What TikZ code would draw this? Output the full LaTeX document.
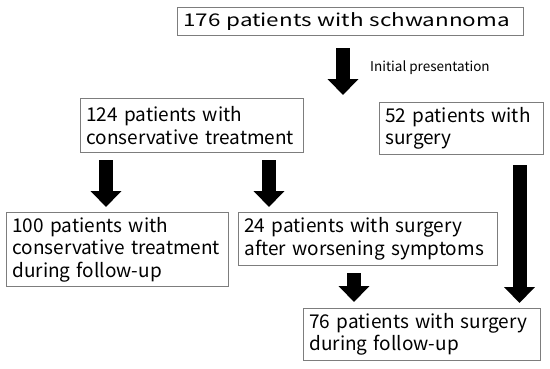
\documentclass[tikz,border=0pt]{standalone}
\usepackage{fontspec}
\setmainfont{Noto Sans CJK JP}
\newfontfamily\bxfont{Noto Sans CJK JP}
\newfontfamily\topfont[FakeStretch=1.28]{Noto Sans CJK JP}
\usetikzlibrary{arrows.meta}
\definecolor{boxline}{RGB}{125,125,125}
\begin{document}
\begin{tikzpicture}[x=1pt,y=-1pt,
  box/.style={draw=boxline, line width=0.8pt, anchor=north west, inner xsep=6pt, inner ysep=0pt,
    align=left, font=\bxfont\fontsize{19}{22.5}\selectfont},
  fat/.style={line width=14pt, draw=black, -{Triangle[width=30pt,length=16pt]}}]
\useasboundingbox (0,0) rectangle (550,368);
\node[box, text width=334pt, minimum height=28pt, font=\topfont\fontsize{17.5}{22}\selectfont] (b1) at (177,7) {176 patients with schwannoma};
\node[box, text width=211pt, minimum height=54pt] (b2) at (80,98) {124 patients with\\conservative treatment};
\node[box, text width=152pt, minimum height=52pt] (b3) at (379,102) {52 patients with\\surgery};
\node[box, text width=210pt, minimum height=74pt] (b4) at (6,212) {100 patients with\\conservative treatment\\during follow-up};
\node[box, text width=247pt, minimum height=53pt] (b5) at (238,212) {24 patients with surgery\\after worsening symptoms};
\node[box, text width=225pt, minimum height=52pt] (b6) at (303,308) {76 patients with surgery\\during follow-up};
\node[anchor=west, inner sep=0pt, font=\bxfont\fontsize{13.5}{15}\selectfont] (lab) at (370,68) {Initial presentation};
\coordinate (a1s) at (343,48);  \coordinate (a1e) at (343,95);
\coordinate (a2s) at (106,160); \coordinate (a2e) at (106,207);
\coordinate (a3s) at (269,160); \coordinate (a3e) at (269,207);
\coordinate (a4s) at (519.5,165); \coordinate (a4e) at (519.5,303);
\coordinate (a5s) at (354,273); \coordinate (a5e) at (354,302);
\draw[fat] (a1s) -- (a1e);
\draw[fat] (a2s) -- (a2e);
\draw[fat] (a3s) -- (a3e);
\draw[fat] (a4s) -- (a4e);
\draw[fat] (a5s) -- (a5e);
\end{tikzpicture}
\end{document}
